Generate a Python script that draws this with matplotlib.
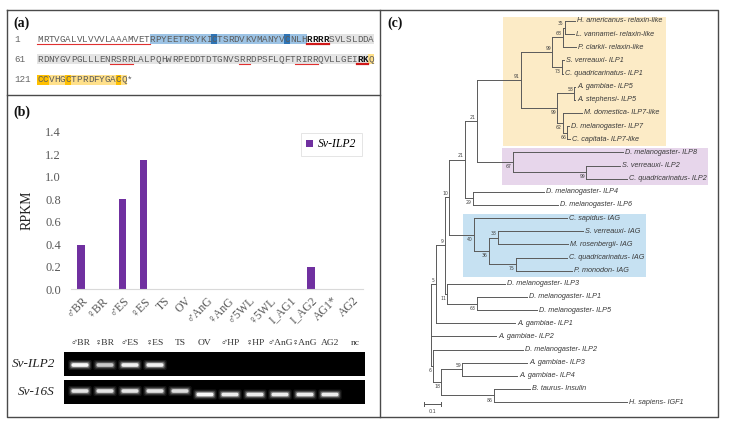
import numpy as np
import matplotlib.pyplot as plt
from matplotlib import patches

SERIF = ["Liberation Serif", "DejaVu Serif"]

# ---- (a) precursor sequence ----
seq_rows = [
    "MRTVGALVLVVVLAAAMVETRPYEETRSYKICTSRDVKVMANYVCNLHRRRRSVLSLDDA",
    "RDNYGVPGLLLENRSRRLALPQHWRPEDDTDTGNVSRRDPSFLQFTRIRRQVLLGEIRKQ",
    "CCVHGCTPRDFYGACQ*",
]
row_numbers = [1, 61, 121]
signal_peptide = [(0, 0, 20)]
b_chain = [(0, 20, 48)]
c_peptide = [(0, 52, 60), (1, 0, 59)]
a_chain = [(1, 59, 60), (2, 0, 16)]
b_cys = [(0, 31), (0, 44)]
a_cys = [(2, 0), (2, 1), (2, 5), (2, 14)]
main_sites = [(0, 48, 52), (1, 57, 59)]
minor_sites = [(1, 13, 17), (1, 36, 38), (1, 46, 50)]

# ---- (b) RPKM + RT-PCR ----
tissues = ["♂BR", "♀BR", "♂ES", "♀ES", "TS", "OV", "♂AnG", "♀AnG",
           "♂5WL", "♀5WL", "I_AG1", "I_AG2", "AG1*", "AG2"]
rpkm = [0.39, 0, 0.80, 1.15, 0, 0, 0, 0, 0, 0, 0, 0.20, 0, 0]

lanes = ["♂BR", "♀BR", "♂ES", "♀ES", "TS", "OV", "♂HP", "♀HP",
         "♂AnG", "♀AnG", "AG2", "nc"]
ilp2_band = [1.0, 0.7, 0.95, 0.95, 0, 0, 0, 0, 0, 0, 0, 0]
s16_band = [0.85, 0.85, 0.85, 0.85, 0.8, 1.0, 0.9, 0.9, 0.9, 0.9, 0.9, 0]
s16_shift = [0, 0, 0, 0, 0, 1, 1, 1, 1, 1, 1, 1]

# ---- (c) tree ----
leaf_names = [
    "H. americanus- relaxin-like", "L. vannamei- relaxin-like",
    "P. clarkii- relaxin-like", "S. verreauxi- ILP1",
    "C. quadricarinatus- ILP1", "A. gambiae- ILP5", "A. stephensi- ILP5",
    "M. domestica- ILP7-like", "D. melanogaster- ILP7",
    "C. capitata- ILP7-like", "D. melanogaster- ILP8", "S. verreauxi- ILP2",
    "C. quadricarinatus- ILP2", "D. melanogaster- ILP4",
    "D. melanogaster- ILP6", "C. sapidus- IAG", "S. verreauxi- IAG",
    "M. rosenbergii- IAG", "C. quadricarinatus- IAG", "P. monodon- IAG",
    "D. melanogaster- ILP3", "D. melanogaster- ILP1", "D. melanogaster- ILP5",
    "A. gambiae- ILP1", "A. gambiae- ILP2", "D. melanogaster- ILP2",
    "A. gambiae- ILP3", "A. gambiae- ILP4", "B. taurus- Insulin",
    "H. sapiens- IGF1",
]
newick = """
(
 (
  (
   (
    (
     (
      ((((0:0.062,1:0.056)35:0.009,2:0.076)68:0.065,(3:0.014,4:0.008)73:0.057)99:0.182,
       ((5:0.006,6:0.006)58:0.1,(7:0.112,(8:0.012,9:0.018)66:0.024)62:0.035)99:0.212)91:0.259,
      (10:0.647,(11:0.2,12:0.241)99:0.429)67:0.212
     )21:0.071,
     (13:0.418,14:0.5)29:0.047
    )21:0.094,
    (15:0.547,((16:0.5,17:0.412)38:0.053,(18:0.3,19:0.329)75:0.159)36:0.088)40:0.147
   )10:0.024,
   (20:0.341,(21:0.294,22:0.353)63:0.176)11:0.012
  )9:0.053,
  23:0.465
 )5:0.029,
 24:0.382,
 (25:0.529,((26:0.382,27:0.324)59:0.124,(28:0.212,29:0.782)86:0.312)18:0.047)6:0.012
);
"""
clade_boxes = [(0, 9, 0.424, 1.382, "#FCEBC6"),
               (10, 12, 0.418, 1.629, "#E7D6EB"),
               (15, 19, 0.188, 1.265, "#C6E1F2")]


def parse_newick(s):
    s = "".join(s.split())
    pos = 0

    def node():
        nonlocal pos
        children = []
        if s[pos] == "(":
            pos += 1
            while True:
                children.append(node())
                if s[pos] == ",":
                    pos += 1
                else:
                    pos += 1
                    break
        start = pos
        while s[pos] not in ":,);":
            pos += 1
        label = s[start:pos]
        length = 0.0
        if s[pos] == ":":
            pos += 1
            start = pos
            while s[pos] not in ",);":
                pos += 1
            length = float(s[start:pos])
        return {"children": children, "label": label, "length": length}

    return node()


def layout(n, x0=0.0):
    n["x"] = x0 + n["length"]
    if n["children"]:
        for c in n["children"]:
            layout(c, n["x"])
        n["y"] = (n["children"][0]["y"] + n["children"][-1]["y"]) / 2
    else:
        n["y"] = int(n["label"])


def draw_tree(ax, n, is_root=True, upper=True):
    lc = "#5a5a5a"
    if n["children"]:
        ys = [c["y"] for c in n["children"]]
        ax.plot([n["x"], n["x"]], [min(ys), max(ys)], color=lc, lw=0.7)
        for k, c in enumerate(n["children"]):
            ax.plot([n["x"], c["x"]], [c["y"], c["y"]], color=lc, lw=0.7)
            draw_tree(ax, c, False, k == 0)
        if not is_root:
            dy = -0.3 if upper else 0.35
            ax.text(n["x"] - 0.006, n["y"] + dy, n["label"], fontsize=3.3,
                    ha="right", va="center", color="#444")
    else:
        ax.text(n["x"] + 0.012, n["y"], leaf_names[int(n["label"])],
                fontsize=5.2, style="italic", family="Liberation Sans",
                ha="left", va="center", color="#3a3a3a")


fig = plt.figure(figsize=(7.3, 4.3), dpi=100)
ax0 = fig.add_axes([0, 0, 1, 1])
ax0.set_xlim(0, 730)
ax0.set_ylim(430, 0)
ax0.axis("off")

# panel frames
fc = "#4a4a4a"
ax0.plot([7, 718, 718, 7, 7], [10, 10, 417, 417, 10], color=fc, lw=1.0)
ax0.plot([380, 380], [10, 417], color=fc, lw=1.0)
ax0.plot([7, 380], [95, 95], color=fc, lw=1.0)
for lab, x, y in [("(a)", 13, 23), ("(b)", 13, 112), ("(c)", 387, 23)]:
    ax0.text(x, y, lab, fontsize=10, fontweight="bold", family=SERIF,
             ha="left", va="center", color="#111")

# ---- sequence ----
cw, x_seq = 5.61, 37.3
row_y = [39, 59, 80]


def span_rect(r, a, b, color):
    ax0.add_patch(patches.Rectangle((x_seq + a * cw, row_y[r] - 5.2),
                                    (b - a) * cw, 10.4, color=color, lw=0))


for r, a, b in c_peptide:
    span_rect(r, a, b, "#E4E4E4")
for r, a, b in b_chain:
    span_rect(r, a, b, "#9CC3E5")
for r, a, b in a_chain:
    span_rect(r, a, b, "#FFE08A")
for r, i in b_cys:
    span_rect(r, i, i + 1, "#2E74B5")
for r, i in a_cys:
    span_rect(r, i, i + 1, "#FFC000")

bold = set()
for r, a, b in main_sites:
    bold.update((r, i) for i in range(a, b))
for r, row in enumerate(seq_rows):
    ax0.text(14, row_y[r], str(row_numbers[r]), family="Liberation Mono",
             fontsize=6.7, ha="left", va="center", color="#666")
    for i, ch in enumerate(row):
        isb = (r, i) in bold
        ax0.text(x_seq + (i + 0.5) * cw, row_y[r], ch, family="Liberation Mono",
                 fontsize=6.7, ha="center", va="center",
                 fontweight="bold" if isb else "normal",
                 color="#111" if isb else "#5c5c5c")

for r, a, b in signal_peptide + minor_sites:
    ax0.plot([x_seq + a * cw, x_seq + b * cw], [row_y[r] + 5.2] * 2,
             color="#E03030", lw=0.8)
for r, a, b in main_sites:
    ax0.plot([x_seq + a * cw, x_seq + b * cw], [row_y[r] + 5.4] * 2,
             color="#D01818", lw=1.6)

# ---- RPKM bar chart ----
axb = fig.add_axes([70.5 / 730, (430 - 289) / 430, (363 - 70.5) / 730,
                    (289 - 132) / 430])
bars = axb.bar(range(len(tissues)), rpkm, width=0.36, color="#7030A0")
axb.set_xlim(-0.5, len(tissues) - 0.5)
axb.set_ylim(0, 1.4)
axb.set_yticks(np.arange(0, 1.41, 0.2))
axb.set_yticklabels(["%.1f" % v for v in np.arange(0, 1.41, 0.2)],
                    family=SERIF, fontsize=9, color="#595959")
axb.set_xticks(range(len(tissues)))
axb.set_xticklabels(tissues, rotation=45, ha="right", va="top",
                    rotation_mode="anchor", family=SERIF, fontsize=8.5,
                    color="#595959")
axb.tick_params(length=0, pad=7)
axb.tick_params(axis="x", pad=4)
for s in ["top", "right", "left"]:
    axb.spines[s].set_visible(False)
axb.spines["bottom"].set_color("#D9D9D9")
axb.patch.set_alpha(0)
axb.set_ylabel("RPKM", family=SERIF, fontsize=10, color="#222", labelpad=8)
leg = axb.legend([bars], ["Sv-ILP2"], loc="upper right",
                 bbox_to_anchor=(1.0, 1.0), borderaxespad=0.1, fancybox=False,
                 edgecolor="#D9D9D9", handlelength=0.6, handleheight=0.6,
                 handletextpad=0.4, borderpad=0.45,
                 prop={"family": SERIF, "style": "italic", "size": 8.5})
leg.get_frame().set_linewidth(0.6)

# ---- RT-PCR gels ----
lane_x = [80 + 25 * i for i in range(len(lanes))]
for x, name in zip(lane_x, lanes):
    ax0.text(x, 343, name, family=SERIF, fontsize=6.8, ha="center",
             va="center", color="#333")
gels = [("Sv-ILP2", 352, 376, ilp2_band, [0] * len(lanes), 365),
        ("Sv-16S", 380, 404, s16_band, s16_shift, 391)]
for name, top, bot, band, shift, y0 in gels:
    ax0.add_patch(patches.Rectangle((64, top), 301, bot - top,
                                    color="black", lw=0))
    ax0.text(55, (top + bot) / 2, name, family=SERIF, style="italic",
             fontsize=9.5, ha="right", va="center", color="#222")
    for x, v, sh in zip(lane_x, band, shift):
        if v <= 0:
            continue
        y = y0 + 3.5 * sh
        for grow, a in [(3.2, 0.10), (2.0, 0.18), (1.0, 0.35), (0, 0.95)]:
            ax0.add_patch(patches.FancyBboxPatch(
                (x - 8.5 - grow, y - 1.8 - grow), 17 + 2 * grow,
                3.6 + 2 * grow, boxstyle="round,pad=0,rounding_size=1.8",
                lw=0, color="white", alpha=a * v))

# ---- phylogenetic tree ----
tree = parse_newick(newick)
layout(tree)
axt = fig.add_axes([380 / 730, 13 / 430, 338 / 730, 407 / 430])
px_u, px_leaf = 170.0, 13.14
axt.set_xlim((380 - 431) / px_u, (718 - 431) / px_u)
axt.set_ylim((417 - 21) / px_leaf, (10 - 21) / px_leaf)
axt.axis("off")
for a, b, x1, x2, col in clade_boxes:
    axt.add_patch(patches.Rectangle((x1, a - 0.32), x2 - x1, b - a + 0.8,
                                    color=col, lw=0, zorder=0))
draw_tree(axt, tree)
# scale bar
sb_y = (404 - 21) / px_leaf
axt.plot([-0.041, 0.059], [sb_y, sb_y], color="#555", lw=0.7)
axt.plot([-0.041, -0.041], [sb_y - 0.15, sb_y + 0.15], color="#555", lw=0.7)
axt.plot([0.059, 0.059], [sb_y - 0.15, sb_y + 0.15], color="#555", lw=0.7)
axt.text(0.009, sb_y + 0.6, "0.1", fontsize=3.5, ha="center", va="center",
         color="#444")

fig.savefig("out.png", dpi=100)
